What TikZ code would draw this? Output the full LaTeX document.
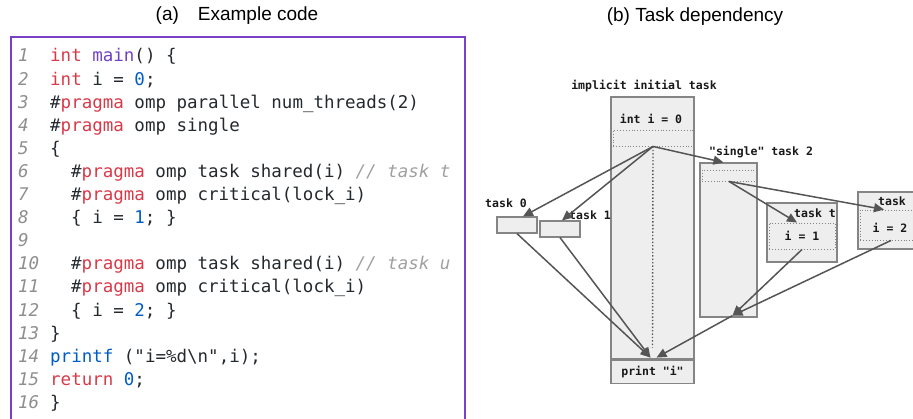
\documentclass[tikz,border=0pt]{standalone}
\usepackage{fontspec}
\usepackage{xcolor}
\usepackage{tikz}
\usetikzlibrary{arrows.meta, positioning}
\setmainfont{Liberation Sans}
\newfontfamily\codefont{DejaVu Sans Mono}

\definecolor{KwRed}{HTML}{D73A49}
\definecolor{FnPurple}{HTML}{6F42C1}
\definecolor{NumBlue}{HTML}{005CC5}
\definecolor{CmtGray}{HTML}{A0A0A0}
\definecolor{LnGray}{HTML}{8E8E8E}
\definecolor{CodeInk}{HTML}{24292E}
\definecolor{FrameClr}{HTML}{7B3FC8}
\definecolor{BoxFill}{HTML}{EEEEEE}
\definecolor{BoxLine}{HTML}{858585}
\definecolor{ArrClr}{HTML}{555555}

\newcommand\Kw[1]{\textcolor{KwRed}{#1}}
\newcommand\Num[1]{\textcolor{NumBlue}{#1}}
\newcommand\Cmt[1]{\textcolor{CmtGray}{\itshape #1}}

\begin{document}
\begin{tikzpicture}[x=1pt, y=-1pt,
    code/.style={anchor=base west, inner sep=0pt, text=CodeInk,
                 font=\fontsize{17.5}{20}\selectfont\codefont},
    lnum/.style={code, text=LnGray, font=\fontsize{17.5}{20}\selectfont\codefont\itshape},
    title/.style={inner sep=0pt, font=\fontsize{19}{22}\selectfont},
    box/.style={draw=BoxLine, fill=BoxFill, line width=1.2pt, inner sep=0pt},
    inbox/.style={draw=BoxLine, dotted, line width=0.9pt, inner sep=0pt},
    lbl/.style={inner sep=0pt, text=black!90, font=\fontsize{11.5}{13}\selectfont\codefont\bfseries},
    dep/.style={draw=ArrClr, line width=1.5pt, -{Triangle[length=10pt,width=9pt]}}]
  \path[use as bounding box, clip] (0,0) rectangle (913,419);

  % (a) the code listing
  \node[title] (ta) at (237,16) {(a)\quad Example code};
  \draw[FrameClr, line width=1.5pt] (11,37) rectangle (465,440);

  \foreach \n in {1,...,16}
    \node[lnum] (l\n) at (18, {62+23.1*(\n-1)}) {\n};

  \node[code] (c1)  at (50,62.0)  {\Kw{int} \textcolor{FnPurple}{main}() \{};
  \node[code] (c2)  at (50,85.1)  {\Kw{int} i = \Num{0};};
  \node[code] (c3)  at (50,108.2) {\#\Kw{pragma} omp parallel num\_threads(2)};
  \node[code] (c4)  at (50,131.3) {\#\Kw{pragma} omp single};
  \node[code] (c5)  at (50,154.4) {\{};
  \node[code] (c6)  at (71,177.5) {\#\Kw{pragma} omp task shared(i) \Cmt{// task t}};
  \node[code] (c7)  at (71,200.6) {\#\Kw{pragma} omp critical(lock\_i)};
  \node[code] (c8)  at (71,223.7) {\{ i = \Num{1}; \}};
  \node[code] (c10) at (71,269.9) {\#\Kw{pragma} omp task shared(i) \Cmt{// task u}};
  \node[code] (c11) at (71,293.0) {\#\Kw{pragma} omp critical(lock\_i)};
  \node[code] (c12) at (71,316.1) {\{ i = \Num{2}; \}};
  \node[code] (c13) at (50,339.2) {\}};
  \node[code] (c14) at (50,362.3) {\Num{printf} ("i=\%d\textbackslash n",i);};
  \node[code] (c15) at (50,385.4) {\Kw{return} \Num{0};};
  \node[code] (c16) at (50,408.5) {\}};

  % (b) the task graph
  \node[title] (tb) at (695,17) {(b) Task dependency};

  \node[box, minimum width=83, minimum height=262] (init) at (652.5,228) {};
  \node[box, lbl, minimum width=83, minimum height=23, anchor=north] (print) at (init.south) {print "i"};
  \node[lbl] (initlbl) at (644,86) {implicit initial task};
  \node[lbl] (itxt) at (651,119) {int i = 0};
  \node[inbox, minimum width=80, minimum height=16] (decl) at (653,138) {};

  \node[box, minimum width=40, minimum height=16] (t0) at (517,225) {};
  \node[lbl] (t0lbl) at (506,203) {task 0};
  \node[box, minimum width=40, minimum height=16] (t1) at (560,229) {};
  \node[lbl] (t1lbl) at (590,215) {task 1};

  \node[box, minimum width=57, minimum height=154] (single) at (728.5,240) {};
  \node[lbl] (slbl) at (761,152) {"single" task 2};
  \node[inbox, minimum width=54, minimum height=11] (sin) at (729,175.5) {};

  \node[box, minimum width=70, minimum height=59] (tt) at (802,232.5) {};
  \node[lbl] (ttlbl) at (815,213) {task t};
  \node[inbox, lbl, minimum width=66, minimum height=26] (tin) at (802,236) {i = 1};

  \node[box, minimum width=70, minimum height=57] (tu) at (893,220.5) {};
  \node[lbl, anchor=west] (tulbl) at (878,201) {task};
  \node[inbox, minimum width=66, minimum height=30] (uin) at (893,225) {};
  \node[lbl] (utxt) at (890,228) {i = 2};

  \coordinate (join) at ([xshift=4pt,yshift=2pt]single.south);

  \draw[dotted, draw=ArrClr, line width=1.4pt] (decl.south) -- ([yshift=12pt]print.north);
  \draw[dep] (decl.south) -- ([xshift=6pt]t0.north);
  \draw[dep] (decl.south) -- ([xshift=2pt]t1.north);
  \draw[dep] (decl.south) -- ([xshift=-5pt]single.north);
  \draw[dep] (sin.south) -- ([xshift=-5pt]tin.north);
  \draw[dep] (sin.south) -- ([xshift=-9pt]uin.north);
  \draw[dep] (tin.south) -- (join);
  \draw[dep] ([xshift=-2pt]uin.south) -- (join);
  \draw[dep] (join) -- ([xshift=4pt,yshift=2pt]print.north);
  \draw[dep] (t0.south) -- ([xshift=-2pt,yshift=2pt]print.north);
  \draw[dep] (t1.south) -- ([xshift=-2pt,yshift=2pt]print.north);
\end{tikzpicture}
\end{document}
